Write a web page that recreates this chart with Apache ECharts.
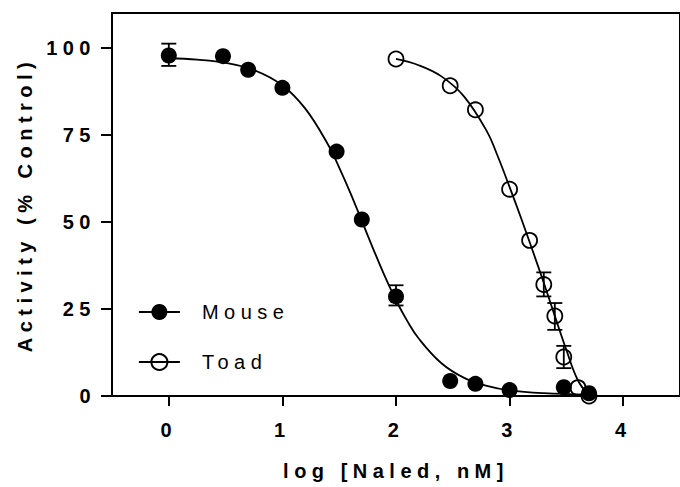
<!DOCTYPE html>
<html>
<head>
<meta charset="utf-8">
<script src="https://cdn.jsdelivr.net/npm/echarts@6/dist/echarts.min.js"></script>
<style>
  html, body { margin: 0; padding: 0; background: #fff; }
  #chart { width: 680px; height: 487px; }
  /* Prism-style spaced lettering */
  #chart text { letter-spacing: 5.5px; }
</style>
</head>
<body>
<div id="chart"></div>
<script>
// measured points (log concentration, % of control)
const mouseX = [0, 0.477, 0.699, 1, 1.477, 1.699, 2, 2.477, 2.699, 3, 3.477, 3.699];
const mouseY = [97.8, 97.6, 93.7, 88.5, 70.2, 50.7, 28.6, 4.3, 3.5, 1.7, 2.5, 0.8];
const toadX = [2, 2.477, 2.699, 3, 3.176, 3.301, 3.398, 3.477, 3.602, 3.699];
const toadY = [96.8, 89.1, 82.2, 59.4, 44.7, 32.0, 23.0, 11.2, 2.4, 0];

// error bars [x, low, high]
const mouseErr = [[0, 94.8, 101.2], [2, 26.0, 31.8]];
const toadErr = [[3.301, 28.6, 35.5], [3.398, 19.0, 26.7], [3.477, 8.0, 14.4]];

// fitted curves
const mouseFitX = [0, 0.25, 0.5, 0.75, 1, 1.2, 1.4, 1.5, 1.6, 1.7, 1.8, 1.9, 2, 2.1, 2.2, 2.4, 2.6, 2.8, 3, 3.3, 3.7];
const mouseFitY = [97.0, 96.6, 95.7, 93.6, 89.2, 82.6, 72.3, 65.6, 58.2, 50.2, 42.2, 34.5, 27.5, 21.5, 16.5, 9.4, 5.2, 2.9, 1.6, 0.8, 0.4];
const toadFitX = [2, 2.2, 2.4, 2.6, 2.8, 2.9, 3, 3.1, 3.2, 3.3, 3.4, 3.5, 3.6, 3.7];
const toadFitY = [96.8, 95.0, 91.8, 86.0, 76.0, 68.5, 60.0, 51.2, 42.0, 32.6, 22.8, 13.2, 4.6, 0];

const xTicks = [0, 1, 2, 3, 4];
const yTicks = [0, 25, 50, 75, 100];

const zip = (xs, ys) => xs.map((x, i) => [x, ys[i]]);

let myChart = echarts.init(document.getElementById("chart"), null, { renderer: 'svg' });

const font = 'Liberation Sans, Arial, sans-serif';

function errorBar(params, api) {
  let x = api.value(0);
  let lo = api.coord([x, api.value(1)]);
  let hi = api.coord([x, api.value(2)]);
  let w = 7.5;
  let style = { stroke: '#000', lineWidth: 1.8 };
  return {
    type: 'group',
    children: [
      { type: 'line', shape: { x1: lo[0], y1: lo[1], x2: hi[0], y2: hi[1] }, style: style },
      { type: 'line', shape: { x1: lo[0] - w, y1: lo[1], x2: lo[0] + w, y2: lo[1] }, style: style },
      { type: 'line', shape: { x1: hi[0] - w, y1: hi[1], x2: hi[0] + w, y2: hi[1] }, style: style }
    ]
  };
}

let option = {
  animation: false,
  grid: {
    left: 112,
    top: 13,
    right: -6,
    bottom: 91,
    show: true,
    borderColor: '#000',
    borderWidth: 2
  },
  legend: {
    data: ['Mouse', 'Toad'],
    orient: 'vertical',
    left: 138,
    top: 302,
    padding: 0,
    itemWidth: 41,
    itemHeight: 20,
    itemGap: 30,
    textStyle: {
      fontFamily: font,
      fontSize: 20,
      color: '#000',
      padding: [0, 0, 0, 17]
    },
    lineStyle: { color: '#000', width: 1.8, opacity: 1 }
  },
  xAxis: {
    type: 'value',
    min: -0.5,
    max: 4.5,
    name: 'log [Naled, nM]',
    nameLocation: 'middle',
    nameGap: 65,
    nameTextStyle: { fontFamily: font, fontSize: 20, fontWeight: 'bold', color: '#000' },
    axisLine: { onZero: false, lineStyle: { color: '#000', width: 2 } },
    axisTick: { customValues: xTicks, length: 10, lineStyle: { color: '#000', width: 2 } },
    axisLabel: { customValues: xTicks, margin: 24, fontFamily: font, fontSize: 20, fontWeight: 'bold', color: '#000' },
    splitLine: { show: false }
  },
  yAxis: {
    type: 'value',
    min: 0,
    max: 110,
    name: 'Activity (% Control)',
    nameLocation: 'middle',
    nameGap: 77,
    nameTextStyle: { fontFamily: font, fontSize: 20, fontWeight: 'bold', color: '#000' },
    axisLine: { onZero: false, lineStyle: { color: '#000', width: 2 } },
    axisTick: { customValues: yTicks, length: 11, lineStyle: { color: '#000', width: 2 } },
    axisLabel: { customValues: yTicks, margin: 16, fontFamily: font, fontSize: 20, fontWeight: 'bold', color: '#000' },
    splitLine: { show: false }
  },
  series: [
    {
      name: 'Mouse fit',
      type: 'line',
      data: zip(mouseFitX, mouseFitY),
      smooth: 0.4,
      symbol: 'none',
      lineStyle: { color: '#000', width: 1.8 },
      z: 2
    },
    {
      name: 'Toad fit',
      type: 'line',
      data: zip(toadFitX, toadFitY),
      smooth: 0.4,
      symbol: 'none',
      lineStyle: { color: '#000', width: 1.8 },
      z: 2
    },
    {
      name: 'Mouse err',
      type: 'custom',
      renderItem: errorBar,
      data: mouseErr,
      z: 3
    },
    {
      name: 'Toad err',
      type: 'custom',
      renderItem: errorBar,
      data: toadErr,
      z: 3
    },
    {
      name: 'Toad',
      type: 'line',
      data: zip(toadX, toadY),
      symbol: 'circle',
      symbolSize: 15,
      showSymbol: true,
      lineStyle: { width: 0, opacity: 0 },
      itemStyle: { color: 'rgba(0,0,0,0)', borderColor: '#000', borderWidth: 1.8 },
      z: 4
    },
    {
      name: 'Mouse',
      type: 'line',
      data: zip(mouseX, mouseY),
      symbol: 'circle',
      symbolSize: 16,
      showSymbol: true,
      lineStyle: { width: 0, opacity: 0 },
      itemStyle: { color: '#000', borderWidth: 0 },
      z: 5
    }
  ]
};
myChart.setOption(option);

window.addEventListener("resize", function () {
  myChart.resize();
});
</script>
</body>
</html>
